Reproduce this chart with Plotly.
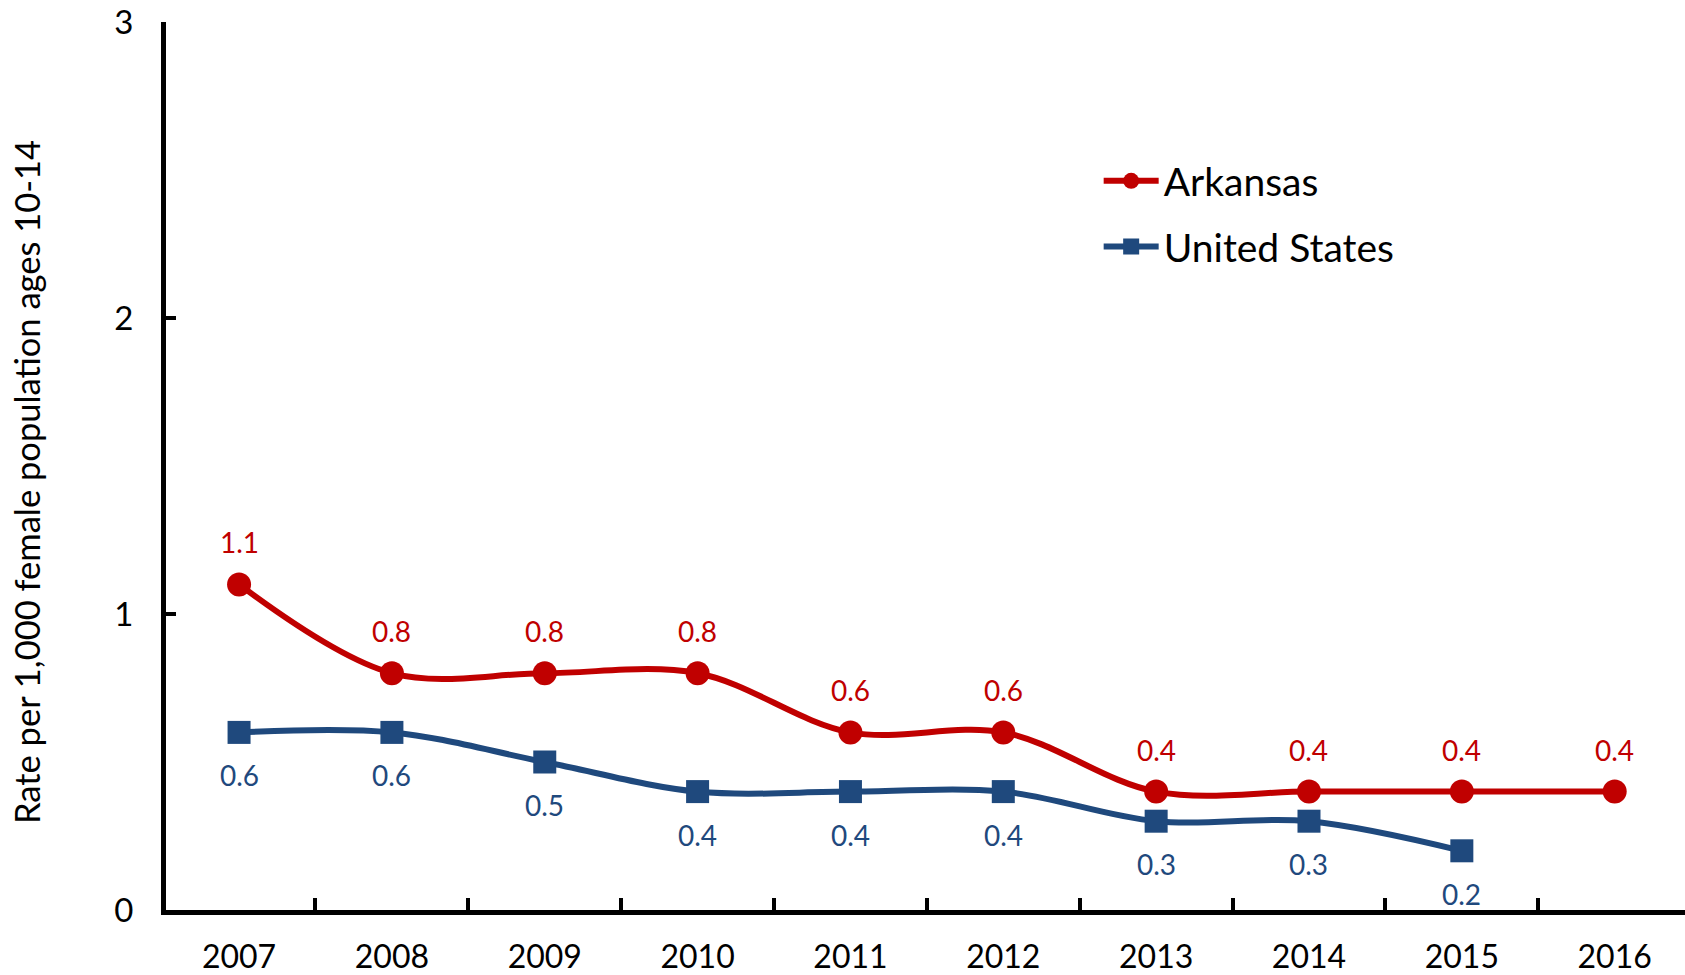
import plotly.graph_objects as go

years = ["2007", "2008", "2009", "2010", "2011", "2012", "2013", "2014", "2015", "2016"]
arkansas = [1.1, 0.8, 0.8, 0.8, 0.6, 0.6, 0.4, 0.4, 0.4, 0.4]
united_states = [0.6, 0.6, 0.5, 0.4, 0.4, 0.4, 0.3, 0.3, 0.2, None]
y_ticks = [0, 1, 2, 3]
y_title = "Rate per 1,000 female population ages 10-14"

RED = "#C00000"
BLUE = "#1F497D"
FONT = "Lato"

fig = go.Figure()
fig.add_trace(go.Scatter(
    x=years, y=arkansas, name="Arkansas", mode="lines+markers",
    line=dict(color=RED, width=6, shape="spline", smoothing=1.0),
    marker=dict(symbol="circle", size=24, color=RED),
    legendgroup="a",
))
fig.add_trace(go.Scatter(
    x=years, y=united_states, name="United States", mode="lines+markers",
    line=dict(color=BLUE, width=6, shape="spline", smoothing=1.0),
    marker=dict(symbol="square", size=23, color=BLUE),
    legendgroup="b",
))

for i, v in enumerate(arkansas):
    if v is not None:
        fig.add_annotation(x=i, y=v, xref="x", yref="y", text=f"{v:.1f}", showarrow=False,
                           yshift=42, font=dict(family=FONT, size=28, color=RED))
for i, v in enumerate(united_states):
    if v is not None:
        fig.add_annotation(x=i, y=v, xref="x", yref="y", text=f"{v:.1f}", showarrow=False,
                           yshift=-43, font=dict(family=FONT, size=28, color=BLUE))

# y-axis title (rotated text, slightly below the axis centre as in the reference)
fig.add_annotation(x=-0.0915, y=0.482, xref="paper", yref="paper", text=y_title,
                   textangle=-90, showarrow=False, xanchor="center", yanchor="middle",
                   font=dict(family=FONT, size=34.5, color="black"))

fig.update_layout(
    width=1685, height=975,
    margin=dict(l=165.5, r=0, t=22, b=65, autoexpand=False),
    paper_bgcolor="white", plot_bgcolor="white",
    font=dict(family=FONT, color="black"),
    showlegend=True,
    legend=dict(x=0.614, y=0.857, xanchor="left", yanchor="top",
                font=dict(family=FONT, size=39, color="black"),
                itemwidth=55, tracegroupgap=12, bgcolor="rgba(0,0,0,0)"),
)
fig.update_xaxes(
    type="category", range=[-0.478, 9.46], automargin=False,
    showline=True, linecolor="black", linewidth=5,
    ticks="inside", tickson="boundaries", ticklen=12, tickwidth=4, tickcolor="black",
    tickfont=dict(family=FONT, size=32, color="black"),
    ticklabelstandoff=15, showgrid=False, zeroline=False,
)
fig.update_yaxes(
    range=[0, 3], tickvals=y_ticks, ticktext=[str(t) for t in y_ticks], automargin=False,
    showline=True, linecolor="black", linewidth=5,
    ticks="inside", ticklen=10, tickwidth=4, tickcolor="black",
    tickfont=dict(family=FONT, size=33, color="black"),
    ticklabelstandoff=21, showgrid=False, zeroline=False,
)

fig.write_html("out.html", config={"displayModeBar": False},
               post_script="document.body.style.margin='0px';document.body.style.overflow='hidden';")
